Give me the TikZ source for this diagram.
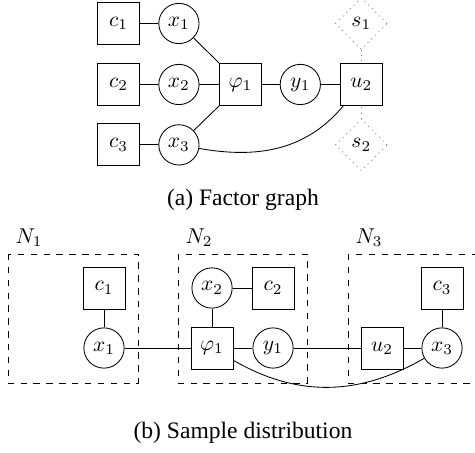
\documentclass[tikz,border=0pt]{standalone}
\usepackage{amsmath}
\usepackage{fontspec}
\setmainfont{Liberation Serif}
\usepackage{tikz}
\usetikzlibrary{shapes.geometric}

\begin{document}
\begin{tikzpicture}[
  factor/.style={draw, rectangle, minimum size=0.69cm, inner sep=0pt},
  var/.style={draw, circle, minimum size=0.66cm, inner sep=0pt},
  hidden/.style={draw=gray, dotted, diamond, minimum size=0.85cm, inner sep=0pt},
  group/.style={dashed},
  caption/.style={font=\fontsize{11}{13}\selectfont}
]
\useasboundingbox (-1.943,1.385) rectangle (5.844,-6.041);

% (a) factor graph
\node[factor] (c1) at (0,1) {$c_1$};
\node[factor] (c2) at (0,0) {$c_2$};
\node[factor] (c3) at (0,-0.99) {$c_3$};
\node[var] (x1) at (0.99,1) {$x_1$};
\node[var] (x2) at (0.99,0) {$x_2$};
\node[var] (x3) at (0.99,-0.99) {$x_3$};
\node[factor] (phi) at (2,0) {$\varphi_1$};
\node[var] (y1) at (2.98,0) {$y_1$};
\node[factor] (u2) at (3.98,0) {$u_2$};
\node[hidden] (s1) at (3.98,1) {$s_1$};
\node[hidden] (s2) at (3.98,-0.99) {$s_2$};

\draw (c1) -- (x1);
\draw (c2) -- (x2);
\draw (c3) -- (x3);
\draw (x1) -- (phi.north west);
\draw (x2) -- (phi);
\draw (x3) -- (phi.south west);
\draw (phi) -- (y1);
\draw (y1) -- (u2);
\draw (x3) to[out=-10, in=-130] (u2);
\draw[gray, dotted] (s1) -- (u2);
\draw[gray, dotted] (s2) -- (u2);

\node[caption] (capa) at (2.04,-1.893) {(a) Factor graph};

% (b) sample distribution
\draw[group] (-1.811,-2.779) rectangle (0.320,-4.893);
\draw[group] (0.975,-2.779) rectangle (3.090,-4.893);
\draw[group] (3.762,-2.779) rectangle (5.877,-4.893);
\node[above right] (n1) at (-1.811,-2.779) {$N_1$};
\node[above right] (n2) at (0.975,-2.779) {$N_2$};
\node[above right] (n3) at (3.762,-2.779) {$N_3$};

\node[factor] (bc1) at (-0.238,-3.336) {$c_1$};
\node[var] (bx1) at (-0.238,-4.32) {$x_1$};
\node[var] (bx2) at (1.533,-3.336) {$x_2$};
\node[factor] (bc2) at (2.533,-3.336) {$c_2$};
\node[factor] (bphi) at (1.533,-4.32) {$\varphi_1$};
\node[var] (by1) at (2.533,-4.32) {$y_1$};
\node[factor] (bu2) at (4.32,-4.32) {$u_2$};
\node[var] (bx3) at (5.303,-4.32) {$x_3$};
\node[factor] (bc3) at (5.303,-3.336) {$c_3$};

\draw (bc1) -- (bx1);
\draw (bx1) -- (bphi);
\draw (bx2) -- (bc2);
\draw (bx2) -- (bphi);
\draw (bphi) -- (by1);
\draw (by1) -- (bu2);
\draw (bu2) -- (bx3);
\draw (bc3) -- (bx3);
\draw (bphi) to[out=-30, in=-150] (bx3);

\node[caption] (capb) at (2.04,-5.713) {(b) Sample distribution};
\end{tikzpicture}
\end{document}
